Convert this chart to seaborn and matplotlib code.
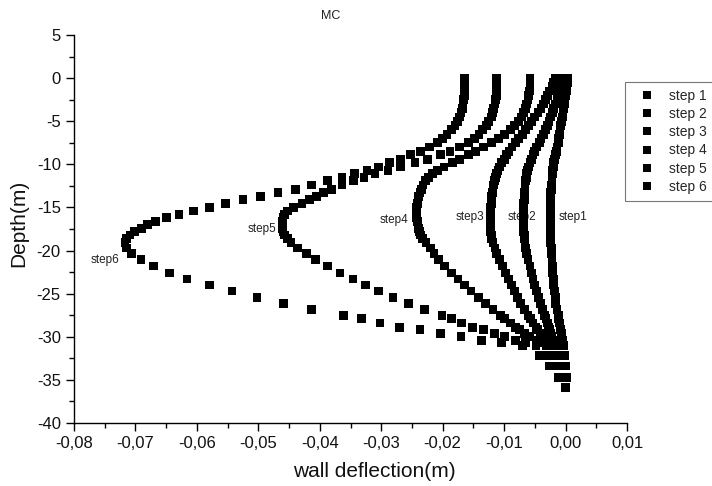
import numpy as np
import pandas as pd
import seaborn as sns
import matplotlib.pyplot as plt
from matplotlib.ticker import MultipleLocator, FuncFormatter

# wall node depths (m), shared by all excavation steps
depth = [
    0.0, -0.5, -1.0, -1.5, -2.0, -2.5, -3.0, -3.5, -4.0, -4.5, -5.0, -5.5, -6.0, -6.5, -7.0,
    -7.5, -8.0, -8.5, -8.9, -9.4, -9.8, -10.3, -10.7, -11.1, -11.5,
    -11.9, -12.4, -12.9, -13.3, -13.7, -14.1, -14.5, -15.0, -15.4, -15.8,
    -16.2, -16.6, -17.0, -17.4, -17.8, -18.2, -18.6, -19.1, -19.7, -20.3,
    -21.0, -21.8, -22.6, -23.3, -24.0, -24.7, -25.4, -26.1, -26.8, -27.5,
    -27.9, -28.4, -28.9, -29.2, -29.6, -30.0, -30.4, -30.7, -31.0,
    -32.2, -33.4, -34.7, -35.9,
]

step1 = [
    0.0004, 0.0003, 0.0002, 0.0001, 0.0000, -0.0001, -0.0002, -0.0003, -0.0004, -0.0005, -0.0006, -0.0008, -0.0009, -0.0010, -0.0011,
    -0.0012, -0.0014, -0.0015, -0.0016, -0.0018, -0.0019, -0.0020, -0.0021, -0.0021, -0.0022,
    -0.0022, -0.0023, -0.0023, -0.0024, -0.0024, -0.0024, -0.0024, -0.0025, -0.0025, -0.0025,
    -0.0025, -0.0025, -0.0025, -0.0025, -0.0025, -0.0024, -0.0024, -0.0024, -0.0023, -0.0023,
    -0.0022, -0.0021, -0.0021, -0.0020, -0.0019, -0.0018, -0.0017, -0.0016, -0.0014, -0.0012,
    -0.0011, -0.0010, -0.0009, -0.0008, -0.0007, -0.0006, -0.0005, -0.0004, -0.0003,
    -0.0002, 0.0000, 0.0001, 0.0000,
]
step2 = [
    -0.0006, -0.0007, -0.0009, -0.0011, -0.0012, -0.0014, -0.0016, -0.0019, -0.0021, -0.0024, -0.0027, -0.0030, -0.0033, -0.0036, -0.0040,
    -0.0043, -0.0047, -0.0050, -0.0053, -0.0056, -0.0058, -0.0060, -0.0062, -0.0063, -0.0064,
    -0.0065, -0.0066, -0.0066, -0.0067, -0.0067, -0.0067, -0.0068, -0.0068, -0.0068, -0.0068,
    -0.0068, -0.0068, -0.0068, -0.0068, -0.0068, -0.0067, -0.0067, -0.0066, -0.0065, -0.0063,
    -0.0061, -0.0058, -0.0056, -0.0053, -0.0050, -0.0047, -0.0044, -0.0041, -0.0038, -0.0034,
    -0.0032, -0.0030, -0.0028, -0.0026, -0.0024, -0.0022, -0.0020, -0.0019, -0.0017,
    -0.0009, -0.0005, -0.0002, 0.0000,
]
step3 = [
    -0.0016, -0.0019, -0.0022, -0.0026, -0.0029, -0.0033, -0.0036, -0.0040, -0.0045, -0.0050, -0.0055, -0.0060, -0.0065, -0.0070, -0.0076,
    -0.0081, -0.0087, -0.0092, -0.0096, -0.0100, -0.0104, -0.0107, -0.0110, -0.0112, -0.0114,
    -0.0116, -0.0117, -0.0118, -0.0119, -0.0120, -0.0121, -0.0121, -0.0122, -0.0122, -0.0122,
    -0.0122, -0.0122, -0.0122, -0.0122, -0.0122, -0.0121, -0.0120, -0.0118, -0.0115, -0.0112,
    -0.0108, -0.0103, -0.0098, -0.0093, -0.0088, -0.0083, -0.0078, -0.0073, -0.0067, -0.0061,
    -0.0057, -0.0053, -0.0048, -0.0045, -0.0041, -0.0037, -0.0033, -0.0030, -0.0027,
    -0.0017, -0.0010, -0.0004, 0.0000,
]
step4 = [
    -0.0058, -0.0058, -0.0058, -0.0059, -0.0060, -0.0061, -0.0063, -0.0065, -0.0068, -0.0072, -0.0077, -0.0083, -0.0090, -0.0099, -0.0109,
    -0.0120, -0.0133, -0.0146, -0.0158, -0.0172, -0.0184, -0.0198, -0.0208, -0.0216, -0.0223,
    -0.0228, -0.0232, -0.0235, -0.0237, -0.0239, -0.0240, -0.0241, -0.0242, -0.0242, -0.0242,
    -0.0242, -0.0241, -0.0240, -0.0239, -0.0238, -0.0236, -0.0233, -0.0227, -0.0220, -0.0214,
    -0.0207, -0.0197, -0.0186, -0.0175, -0.0165, -0.0154, -0.0142, -0.0130, -0.0118, -0.0106,
    -0.0099, -0.0090, -0.0081, -0.0075, -0.0067, -0.0058, -0.0047, -0.0040, -0.0032,
    -0.0026, -0.0016, -0.0007, 0.0000,
]
step5 = [
    -0.0112, -0.0112, -0.0112, -0.0113, -0.0113, -0.0114, -0.0115, -0.0117, -0.0119, -0.0121, -0.0125, -0.0129, -0.0135, -0.0141, -0.0148,
    -0.0158, -0.0172, -0.0188, -0.0204, -0.0225, -0.0245, -0.0269, -0.0289, -0.0310, -0.0328,
    -0.0345, -0.0364, -0.0381, -0.0394, -0.0405, -0.0417, -0.0429, -0.0443, -0.0452, -0.0457,
    -0.0460, -0.0461, -0.0461, -0.0461, -0.0460, -0.0457, -0.0453, -0.0447, -0.0436, -0.0421,
    -0.0407, -0.0388, -0.0367, -0.0346, -0.0325, -0.0305, -0.0281, -0.0256, -0.0229, -0.0201,
    -0.0185, -0.0169, -0.0151, -0.0134, -0.0116, -0.0099, -0.0082, -0.0065, -0.0048,
    -0.0034, -0.0021, -0.0009, 0.0000,
]
step6 = [
    -0.0164, -0.0164, -0.0164, -0.0165, -0.0165, -0.0166, -0.0167, -0.0168, -0.0170, -0.0173, -0.0176, -0.0180, -0.0186, -0.0193, -0.0200,
    -0.0209, -0.0222, -0.0236, -0.0252, -0.0269, -0.0287, -0.0305, -0.0323, -0.0343, -0.0364,
    -0.0388, -0.0413, -0.0440, -0.0468, -0.0496, -0.0525, -0.0553, -0.0580, -0.0606, -0.0629,
    -0.0650, -0.0667, -0.0680, -0.0690, -0.0701, -0.0709, -0.0714, -0.0717, -0.0714, -0.0706,
    -0.0691, -0.0670, -0.0645, -0.0616, -0.0580, -0.0543, -0.0502, -0.0459, -0.0413, -0.0362,
    -0.0332, -0.0302, -0.0270, -0.0237, -0.0204, -0.0170, -0.0137, -0.0104, -0.0070,
    -0.0042, -0.0026, -0.0011, 0.0000,
]

step_names = ["step 1", "step 2", "step 3", "step 4", "step 5", "step 6"]

# in-plot curve labels
label_text = ["step1", "step2", "step3", "step4", "step5", "step6"]
label_x = [0.0012, -0.0071, -0.0155, -0.0279, -0.0494, -0.0750]
label_y = [-16.1, -16.1, -16.1, -16.5, -17.5, -21.1]


def comma_fmt(v, pos):
    if abs(v) < 1e-9:
        v = 0.0
    return f"{v:.2f}".replace(".", ",")


def main():
    sns.set_theme(style="ticks")
    plt.rcParams['font.family'] = ['Liberation Sans', 'DejaVu Sans']
    plt.rcParams['axes.unicode_minus'] = False

    frames = []
    for name, vals in zip(step_names, [step1, step2, step3, step4, step5, step6]):
        frames.append(pd.DataFrame({'deflection': vals, 'depth': depth, 'step': name}))
    df = pd.concat(frames, ignore_index=True)

    fig = plt.figure(figsize=(7.12, 4.86), dpi=100)
    ax = fig.add_axes([74 / 712, 63 / 486, 553 / 712, 388 / 486])

    sns.scatterplot(data=df, x='deflection', y='depth', hue='step', hue_order=step_names,
                    palette=['black'] * 6, marker='s', s=40, linewidth=0, ax=ax, zorder=3)

    for t, x, y in zip(label_text, label_x, label_y):
        ax.text(x, y, t, ha='center', va='center', fontsize=8.5, color='#222222', zorder=1)

    ax.set_xlim(-0.08, 0.01)
    ax.set_ylim(-40, 5)
    ax.xaxis.set_major_locator(MultipleLocator(0.01))
    ax.xaxis.set_minor_locator(MultipleLocator(0.005))
    ax.yaxis.set_major_locator(MultipleLocator(5))
    ax.yaxis.set_minor_locator(MultipleLocator(2.5))
    ax.xaxis.set_major_formatter(FuncFormatter(comma_fmt))

    ax.tick_params(which='major', direction='out', length=6, width=1, color='black',
                   labelsize=12, labelcolor='#111111')
    ax.tick_params(which='minor', direction='out', length=3.5, width=1, color='black')
    for side in ['top', 'right']:
        ax.spines[side].set_visible(False)
    for side in ['left', 'bottom']:
        ax.spines[side].set_color('black')
        ax.spines[side].set_linewidth(1)

    ax.set_xlabel("wall deflection(m)", fontsize=15, color='#111111')
    ax.set_ylabel("Depth(m)", fontsize=15, color='#111111')
    ax.xaxis.set_label_coords(0.544, -0.1)
    ax.yaxis.set_label_coords(-0.083, 0.515)

    fig.text(331 / 712, 1 - 16 / 486, "MC", ha='center', va='center', fontsize=9, color='#222222')

    sns.move_legend(ax, 'upper left', bbox_to_anchor=(0.9964, 0.879), title=None, frameon=True,
                    fancybox=False, fontsize=10, borderaxespad=0, borderpad=0.5,
                    labelspacing=0.3, handlelength=2.2, handletextpad=0.5, markerscale=1.0)
    leg = ax.get_legend()
    leg.get_frame().set_edgecolor('#555555')
    leg.get_frame().set_linewidth(0.8)

    fig.savefig("out.png", dpi=100)


if __name__ == "__main__":
    main()
